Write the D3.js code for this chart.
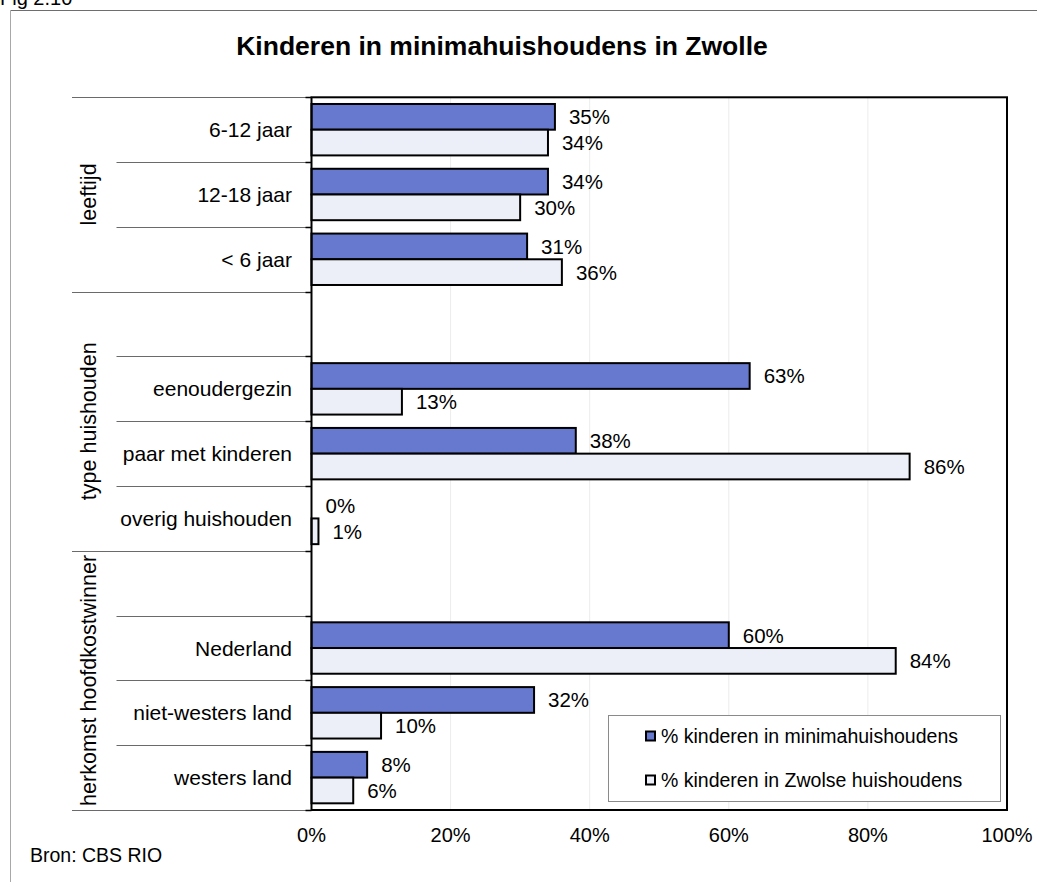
<!DOCTYPE html>
<html><head><meta charset="utf-8">
<script src="https://cdn.jsdelivr.net/npm/d3@7"></script>
<style>
body{margin:0;background:#fff;}
svg{display:block;font-family:"Liberation Sans",Arial,sans-serif;}
</style></head>
<body>
<svg id="chart" width="1037" height="882"></svg>
<script>
// ---- data ----
const groups = ["leeftijd", "type huishouden", "herkomst hoofdkostwinner"];
const groupCategories = [
  ["6-12 jaar", "12-18 jaar", "< 6 jaar"],
  ["eenoudergezin", "paar met kinderen", "overig huishouden"],
  ["Nederland", "niet-westers land", "westers land"]
];
const seriesNames = ["% kinderen in minimahuishoudens", "% kinderen in Zwolse huishoudens"];
const minimaValues = [35, 34, 31, 63, 38, 0, 60, 32, 8];
const zwolleValues = [34, 30, 36, 13, 86, 1, 84, 10, 6];
const xTicks = [0, 20, 40, 60, 80, 100];
const colors = ["#6679cf", "#eceff8"];

// ---- layout ----
const svg = d3.select("#chart");
const plot = {left: 311.5, right: 1007, top: 97.3, bottom: 810};

const rows = [];
groups.forEach((g, gi) => {
  if (gi > 0) rows.push({key: "gap" + gi, gap: true, group: gi});
  groupCategories[gi].forEach(c => rows.push({key: c, gap: false, group: gi}));
});
const flatCats = groupCategories.flat();
const data = flatCats.map((c, i) => ({cat: c, values: [minimaValues[i], zwolleValues[i]]}));

const x = d3.scaleLinear().domain([0, 100]).range([plot.left, plot.right]);
const y = d3.scaleBand().domain(rows.map(r => r.key)).range([plot.top, plot.bottom]).paddingInner(0).paddingOuter(0);
const ys = d3.scaleBand().domain([0, 1]).range([0, y.bandwidth()]).paddingInner(0).paddingOuter(0.26);

// outer frame
svg.append("line").attr("x1", 10.5).attr("x2", 1037).attr("y1", 10.5).attr("y2", 10.5).attr("stroke", "#6e6e6e");
svg.append("line").attr("x1", 10.5).attr("x2", 10.5).attr("y1", 10.5).attr("y2", 882).attr("stroke", "#a8a8a8");

svg.append("text").attr("x", 0).attr("y", 5).attr("font-size", 20).attr("fill", "#000").text("Fig 2.10");

// title
svg.append("text").attr("x", 502).attr("y", 55).attr("text-anchor", "middle")
  .attr("font-size", 26.5).attr("font-weight", "bold").text("Kinderen in minimahuishoudens in Zwolle");

// gridlines
svg.append("g").selectAll("line").data(xTicks.filter(t => t > 0 && t < 100)).join("line")
  .attr("x1", d => x(d)).attr("x2", d => x(d)).attr("y1", plot.top).attr("y2", plot.bottom)
  .attr("stroke", "#ececec").attr("stroke-width", 1);

// row boundary lines
const boundaries = [];
rows.forEach((r, i) => {
  boundaries.push({y: y(r.key), long: i === 0 || r.gap});
});
boundaries.push({y: plot.bottom, long: true});
svg.append("g").selectAll("line").data(boundaries).join("line")
  .attr("x1", d => d.long ? 72 : 116.5).attr("x2", plot.left)
  .attr("y1", d => Math.round(d.y) + 0.5).attr("y2", d => Math.round(d.y) + 0.5)
  .attr("stroke", "#6a6a6a").attr("stroke-width", 1);
svg.append("g").selectAll("line").data(boundaries).join("line")
  .attr("x1", plot.left - 6).attr("x2", plot.left)
  .attr("y1", d => Math.round(d.y) + 0.5).attr("y2", d => Math.round(d.y) + 0.5)
  .attr("stroke", "#000").attr("stroke-width", 1.5);

// bars
const barG = svg.append("g");
data.forEach(d => {
  d.values.forEach((v, s) => {
    const y0 = y(d.cat) + ys(s);
    if (v > 0) {
      barG.append("rect").attr("x", x(0)).attr("y", y0)
        .attr("width", x(v) - x(0)).attr("height", ys.bandwidth())
        .attr("fill", colors[s]).attr("stroke", "#000").attr("stroke-width", 2);
    }
    barG.append("text").attr("x", x(v) + 14).attr("y", y0 + ys.bandwidth() / 2)
      .attr("dy", "0.36em").attr("font-size", 20.5).text(d3.format("d")(v) + "%");
  });
});

// plot border
svg.append("rect").attr("x", plot.left).attr("y", plot.top)
  .attr("width", plot.right - plot.left).attr("height", plot.bottom - plot.top)
  .attr("fill", "none").attr("stroke", "#000").attr("stroke-width", 2);

// category labels
svg.append("g").selectAll("text").data(flatCats).join("text")
  .attr("x", 292).attr("y", d => y(d) + y.bandwidth() / 2).attr("dy", "0.36em")
  .attr("text-anchor", "end").attr("font-size", 21).text(d => d);

// group labels
groups.forEach((g, gi) => {
  const gRows = rows.filter(r => r.group === gi);
  const top = y(gRows[0].key), bot = y(gRows[gRows.length - 1].key) + y.bandwidth();
  const cy = (top + bot) / 2;
  svg.append("text").attr("transform", `translate(88,${cy}) rotate(-90)`)
    .attr("text-anchor", "middle").attr("dy", "0.36em").attr("font-size", 21.5).text(g);
});

// x axis labels
svg.append("g").selectAll("text").data(xTicks).join("text")
  .attr("x", d => x(d)).attr("y", 842).attr("text-anchor", "middle")
  .attr("font-size", 20).text(d => d + "%");

// legend
const lg = svg.append("g");
lg.append("rect").attr("x", 608.5).attr("y", 715.5).attr("width", 392).attr("height", 86)
  .attr("fill", "#fff").attr("stroke", "#8a8a8a").attr("stroke-width", 1);
seriesNames.forEach((n, i) => {
  const cy = 736 + i * 44;
  lg.append("rect").attr("x", 646).attr("y", cy - 4.5).attr("width", 9).attr("height", 9)
    .attr("fill", colors[i]).attr("stroke", "#000").attr("stroke-width", 2);
  lg.append("text").attr("x", 661).attr("y", cy).attr("dy", "0.36em").attr("font-size", 19.5).text(n);
});

// source
svg.append("text").attr("x", 30).attr("y", 862).attr("font-size", 19.5).text("Bron: CBS RIO");
</script>
</body></html>
